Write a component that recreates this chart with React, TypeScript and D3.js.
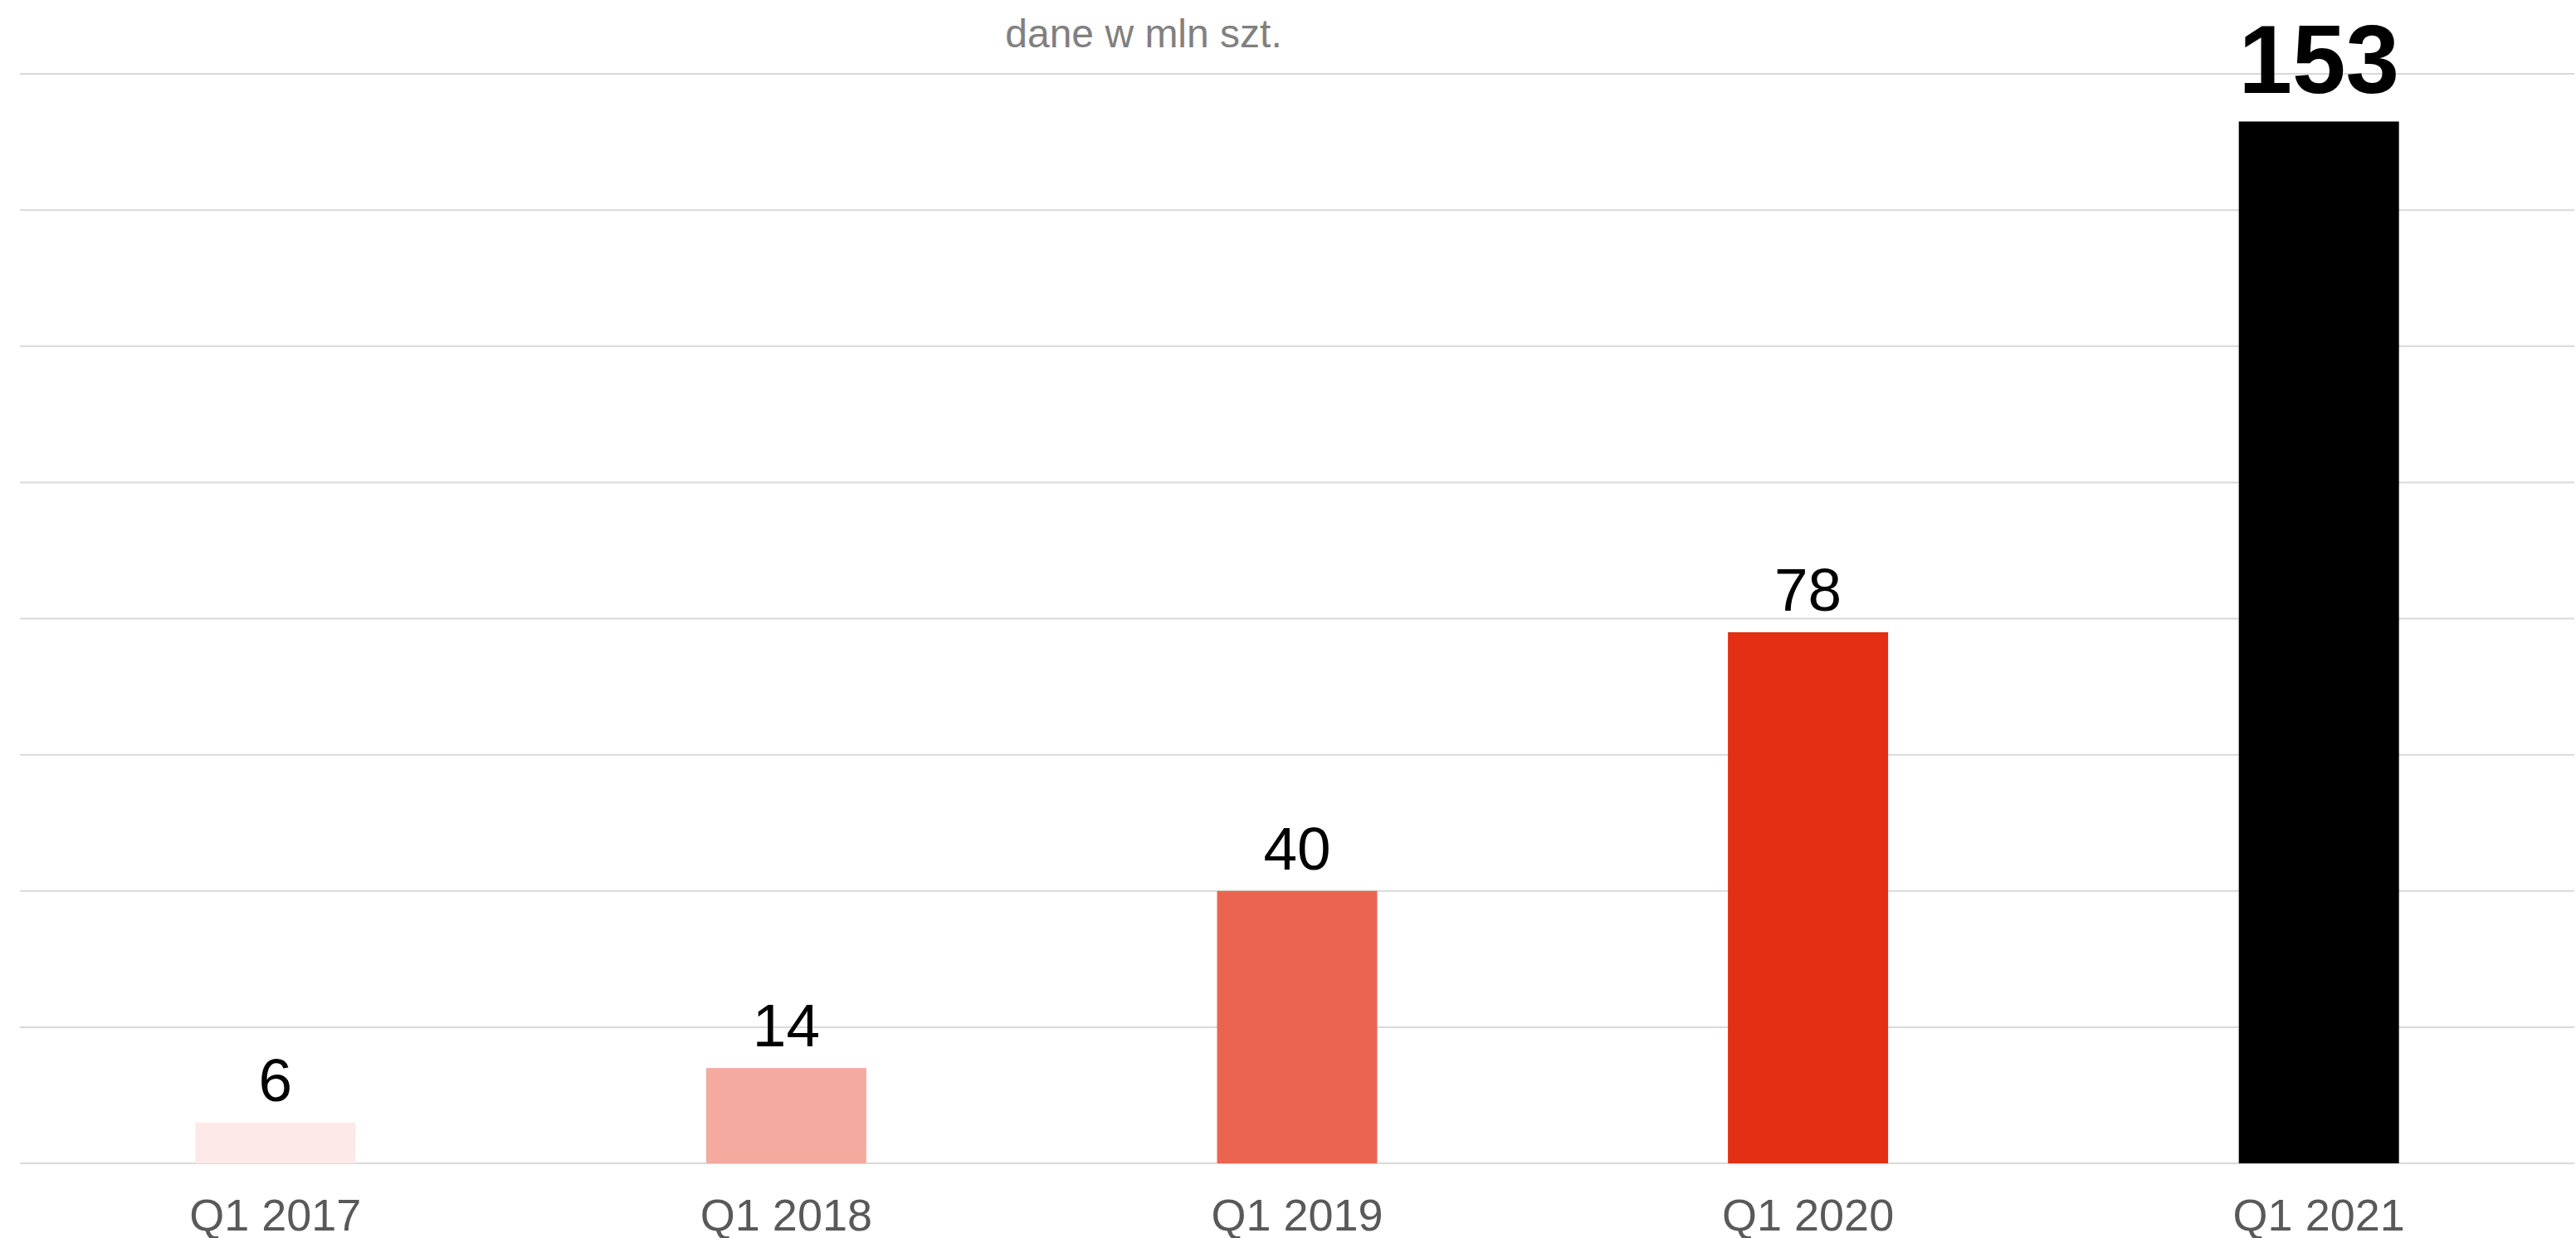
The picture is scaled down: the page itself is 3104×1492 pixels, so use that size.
import React from "react";
import * as d3 from "d3";

// Q1 shipments, in millions of units
const quarters = ["Q1 2017", "Q1 2018", "Q1 2019", "Q1 2020", "Q1 2021"];
const values = [6, 14, 40, 78, 153];
const barColors = ["#fde9e7", "#f4aa9f", "#eb644f", "#e32f13", "#000000"];
const yTicks = [0, 20, 40, 60, 80, 100, 120, 140, 160];
const subtitle = "dane w mln szt.";

export default function App() {
  const width = 3104;
  const height = 1492;
  const left = 24;
  const right = 3102;
  const baseline = 1402;
  const top = 89;

  const x = d3
    .scaleBand<string>()
    .domain(quarters)
    .range([left, right])
    .paddingInner(0.6865)
    .paddingOuter(0.6865 / 2);

  const y = d3.scaleLinear().domain([0, 160]).range([baseline, top]);

  const font = "'Liberation Sans', Arial, sans-serif";
  const last = values.length - 1;

  return (
    <svg
      width={width}
      height={height}
      style={{ position: "absolute", left: 0, top: 0, display: "block", background: "#fff" }}
    >
      {/* grid */}
      {yTicks.map(t => (
        <line
          key={t}
          x1={left}
          x2={right}
          y1={y(t)}
          y2={y(t)}
          stroke="#d9d9d9"
          strokeWidth={2}
        />
      ))}

      {/* bars */}
      {quarters.map((q, i) => (
        <rect
          key={q}
          x={x(q)}
          y={y(values[i])}
          width={x.bandwidth()}
          height={baseline - y(values[i])}
          fill={barColors[i]}
        />
      ))}

      {/* value labels */}
      {quarters.map((q, i) => (
        <text
          key={q + "-v"}
          x={(x(q) as number) + x.bandwidth() / 2}
          y={y(values[i]) - (i === last ? 34 : 26)}
          textAnchor="middle"
          fontFamily={font}
          fontSize={i === last ? 116 : 73}
          fontWeight={i === last ? 700 : 400}
          fill="#000"
        >
          {values[i]}
        </text>
      ))}

      {/* x axis labels */}
      {quarters.map(q => (
        <text
          key={q + "-l"}
          x={(x(q) as number) + x.bandwidth() / 2}
          y={1483}
          textAnchor="middle"
          fontFamily={font}
          fontSize={54}
          fill="#595959"
        >
          {q}
        </text>
      ))}

      {/* subtitle */}
      <text
        x={1378}
        y={57}
        textAnchor="middle"
        fontFamily={font}
        fontSize={48}
        fill="#808080"
      >
        {subtitle}
      </text>
    </svg>
  );
}
